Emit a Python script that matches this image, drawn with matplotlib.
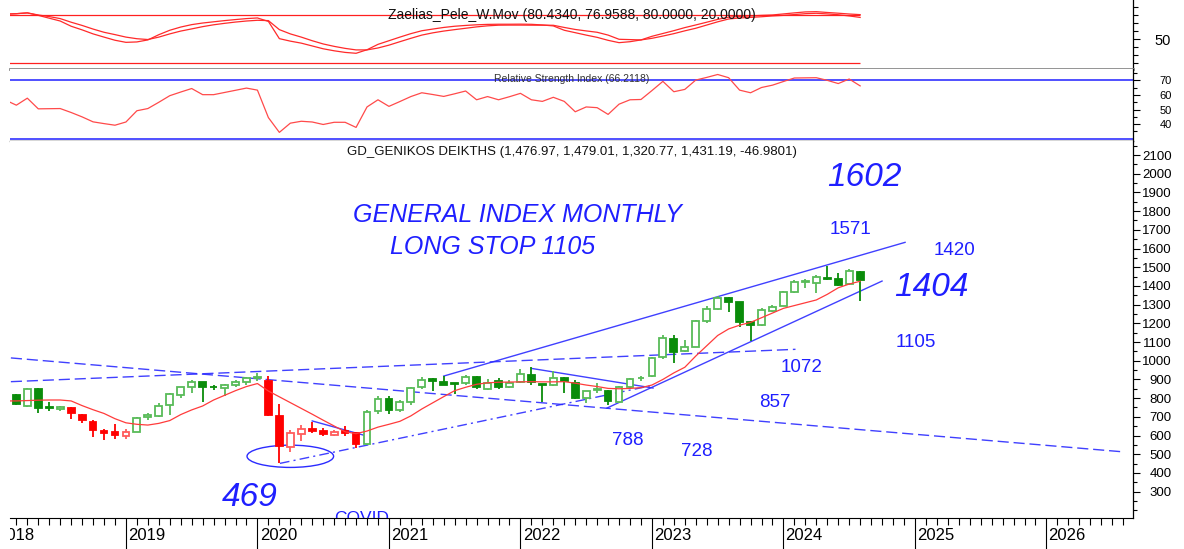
import numpy as np
import matplotlib
matplotlib.use("Agg")
import matplotlib.pyplot as plt
from matplotlib.patches import Ellipse
from matplotlib.ticker import FixedLocator, MultipleLocator
from matplotlib.transforms import Bbox, TransformedBbox, blended_transform_factory

plt.rcParams['font.family'] = ['Liberation Sans', 'DejaVu Sans']

# month index 0 = Jan 2018; candles run Feb 2018 .. Aug 2024
first_month = 1
years = list(range(2018, 2027))

opens = [865, 817, 760, 849, 750, 740, 748, 711, 672, 624,
         619, 596, 619, 698, 706, 762, 815, 858, 885, 860,
         852, 870, 888, 909, 893, 706, 537, 608, 635, 624,
         603, 624, 612, 553, 731, 797, 735, 781, 858, 904,
         884, 880, 880, 915, 849, 890, 859, 885, 925, 876,
         869, 910, 880, 802, 843, 838, 778, 862, 905, 920,
         1018, 1115, 1050, 1075, 1213, 1277, 1337, 1314, 1209, 1189,
         1266, 1293, 1366, 1420, 1414, 1445, 1436, 1411, 1476.97]
highs = [880, 820, 853, 856, 781, 760, 750, 713, 683, 636,
         661, 634, 700, 720, 772, 825, 862, 898, 887, 870,
         875, 895, 915, 932, 918, 769, 629, 657, 675, 640,
         630, 650, 614, 735, 810, 811, 790, 862, 912, 906,
         918, 882, 925, 920, 900, 910, 895, 955, 965, 878,
         945, 912, 898, 836, 880, 842, 865, 910, 917, 1020,
         1135, 1138, 1110, 1220, 1290, 1345, 1339, 1316, 1211, 1280,
         1300, 1375, 1432, 1436, 1458, 1506, 1468, 1490, 1479.01]
lows = [790, 763, 755, 722, 733, 730, 690, 665, 594, 576,
        583, 583, 617, 685, 700, 710, 800, 830, 781, 845,
        812, 860, 870, 893, 705, 455, 513, 570, 613, 600,
        595, 600, 532, 550, 715, 715, 725, 765, 850, 840,
        868, 822, 870, 850, 845, 848, 855, 880, 870, 781,
        865, 826, 794, 773, 830, 763, 775, 850, 890, 915,
        1010, 989, 1045, 1072, 1200, 1270, 1259, 1182, 1107, 1185,
        1262, 1290, 1360, 1388, 1360, 1434, 1400, 1405, 1320.77]
closes = [818, 768, 849, 747, 746, 752, 719, 681, 629, 615,
          604, 621, 695, 710, 756, 820, 858, 888, 862, 857,
          872, 886, 906, 913, 710, 544, 612, 635, 623, 608,
          619, 612, 555, 724, 796, 736, 778, 852, 898, 889,
          872, 878, 911, 859, 883, 862, 883, 927, 886, 870,
          910, 889, 799, 836, 848, 786, 862, 901, 908, 1012,
          1120, 1046, 1075, 1214, 1277, 1334, 1312, 1209, 1191, 1271,
          1289, 1366, 1423, 1424, 1446, 1436, 1407, 1480, 1431.19]
# U = up trend (green), D = down trend (red)
trend = ("UUUUUU" "DDDDDD" "UUUUUUUUUUUU" "DDDDDDDDD"
         "UUUUUUUUUUUUUUUUUUUUUUUUUUUUUUUUUUUUUUUUUUUUUU")

moving_avg = [785, 785, 787, 789, 790, 790, 785, 760, 738, 718,
              690, 668, 660, 656, 665, 680, 712, 737, 758, 790,
              815, 840, 862, 878, 838, 807, 776, 745, 714, 682,
              651, 620, 610, 624, 645, 660, 676, 705, 742, 775,
              808, 840, 858, 874, 882, 885, 886, 887, 888, 887,
              887, 888, 880, 870, 862, 852, 850, 852, 856, 870,
              900, 935, 965, 1025, 1080, 1135, 1170, 1190, 1205, 1230,
              1255, 1280, 1295, 1310, 1325, 1355, 1390, 1410, 1425]

zaelias_fast = [81.0, 81.6, 82.6, 79.5, 76.0, 72.5, 66.0, 61.5, 56.5, 52.5,
                48.6, 46.0, 46.5, 49.0, 55.5, 61.0, 65.0, 68.0, 70.0, 71.5,
                73.0, 74.3, 75.5, 76.3, 72.0, 50.6, 47.5, 45.0, 41.5, 38.0,
                35.5, 33.5, 32.4, 36.8, 43.5, 48.0, 52.5, 56.8, 60.4, 62.5,
                64.5, 66.0, 67.0, 67.8, 68.3, 68.5, 68.5, 68.6, 68.4, 67.6,
                66.4, 61.0, 58.0, 55.0, 52.2, 48.5, 45.6, 46.8, 49.0, 53.5,
                57.0, 60.5, 64.3, 67.6, 71.0, 74.5, 77.3, 78.2, 78.8, 79.5,
                80.0, 81.3, 82.6, 83.8, 84.1, 83.1, 82.2, 81.2, 80.434]
zaelias_slow = [81.0, 81.6, 82.6, 80.0, 78.0, 75.5, 71.0, 67.0, 62.5, 58.5,
                55.6, 52.5, 50.5, 49.5, 52.5, 56.5, 60.0, 62.7, 65.5, 67.8,
                69.6, 71.2, 72.5, 73.4, 73.0, 61.8, 56.5, 52.5, 48.0, 44.0,
                41.0, 38.5, 36.6, 36.6, 39.0, 42.5, 46.8, 51.0, 55.0, 57.8,
                60.0, 61.8, 63.5, 65.2, 66.5, 67.3, 67.4, 67.4, 67.3, 67.3,
                67.2, 64.5, 62.0, 60.2, 58.5, 55.0, 49.8, 49.4, 49.0, 51.0,
                53.8, 56.8, 60.3, 63.5, 67.5, 71.5, 75.0, 76.3, 77.0, 77.8,
                78.8, 79.5, 80.5, 81.6, 82.1, 81.3, 80.3, 78.8, 76.959]
zaelias_levels = [80.0, 20.0]

rsi = [56.5, 53.0, 57.8, 50.5, 50.6, 50.7, 48.0, 45.0, 41.6, 40.4,
       39.3, 41.5, 49.2, 50.7, 55.0, 59.5, 62.0, 64.4, 60.2, 60.2,
       61.7, 63.2, 64.7, 63.3, 44.5, 34.4, 40.7, 42.0, 41.5, 39.8,
       41.3, 41.3, 37.8, 51.8, 56.7, 52.2, 55.5, 58.9, 61.5, 60.3,
       59.0, 60.8, 62.7, 56.7, 58.9, 56.7, 58.8, 61.1, 56.7, 55.6,
       58.4, 55.6, 48.5, 51.8, 51.3, 46.7, 53.7, 56.7, 56.9, 63.0,
       69.3, 62.2, 63.8, 70.2, 72.0, 74.0, 71.8, 63.3, 61.5, 65.1,
       66.7, 69.2, 71.6, 71.7, 71.8, 70.0, 67.8, 70.9, 66.21]
rsi_levels = [70, 30]

# hand-drawn lines: (month, price) endpoints
upper_channel = [(41.0, 918), (83.1, 1633)]
lower_channel = [(55.9, 747), (81.0, 1426)]
triangle_top = [(49.0, 959), (60.1, 854)]
covid_down = [(29.0, 678), (34.0, 597)]
long_falling = [(1.5, 1015), (103.15, 512)]
long_rising = [(1.5, 888), (73.1, 1061)]
covid_support = [(26.05, 451), (59.8, 865)]
covid_low_ellipse = (27.0, 489, 7.9, 119)

big_notes = [("1602", 79.4, 1982), ("1404", 85.5, 1394), ("469", 23.3, 271)]
small_notes = [("1571", 78.15, 1704), ("1420", 87.6, 1587), ("1105", 84.1, 1095),
               ("1072", 73.7, 966), ("857", 71.2, 774), ("788", 57.8, 576),
               ("728", 64.1, 517)]
headline = [("GENERAL INDEX MONTHLY", 47.7, 1779), ("LONG STOP 1105", 45.5, 1608)]

W, H = 1184, 549
fig = plt.figure(figsize=(W / 100, H / 100), dpi=100)
left, right = 10 / W, 1133 / W


def frac(y0, y1):
    return [left, 1 - y1 / H, right - left, (y1 - y0) / H]


ax_top = fig.add_axes(frac(0, 68.5))
ax_rsi = fig.add_axes(frac(68.5, 141))
ax = fig.add_axes(frac(141, 518))

x = np.arange(first_month, first_month + len(closes))
xlim = (1.42, 103.9)
blue = '#2b2bff'

for a in (ax_top, ax_rsi, ax):
    a.set_xlim(*xlim)
    a.set_facecolor('white')
    for s in ('top', 'left'):
        a.spines[s].set_visible(False)
    a.spines['right'].set_color('black')
    a.spines['right'].set_linewidth(0.9)
    a.yaxis.tick_right()
    a.tick_params(axis='y', which='both', direction='out', width=0.8, colors='black')

# ---- top panel: Zaelias_Pele_W.Mov
ax_top.set_ylim(13.5, 98.6)
ax_top.plot(x, zaelias_slow, color='#ff2a2a', lw=0.9)
ax_top.plot(x, zaelias_fast, color='#ff2a2a', lw=0.9)
for lvl in zaelias_levels:
    ax_top.hlines(lvl, x[0] - 1, x[-1], color='#ff2020', lw=0.9)
ax_top.set_xticks([])
ax_top.spines['bottom'].set_color('#8a8a8a')
ax_top.spines['bottom'].set_linewidth(2)
ax_top.yaxis.set_major_locator(FixedLocator([50]))
ax_top.yaxis.set_minor_locator(FixedLocator([20, 30, 40, 60, 70, 80, 90]))
ax_top.tick_params(axis='y', which='major', length=5, labelsize=10.5, pad=22.5)
ax_top.tick_params(axis='y', which='minor', length=3.5)
ax_top.text(0.5, 0.78, "Zaelias_Pele_W.Mov (80.4340, 76.9588, 80.0000, 20.0000)",
            transform=ax_top.transAxes, ha='center', va='center', fontsize=10, color='#111111')

# ---- RSI panel
ax_rsi.set_ylim(28.5, 78.1)
for lvl in rsi_levels:
    ax_rsi.axhline(lvl, color='#2020ff', lw=1.1)
ax_rsi.plot(x, rsi, color='#ff4a4a', lw=0.9)
ax_rsi.set_xticks([])
ax_rsi.spines['bottom'].set_color('#333333')
ax_rsi.spines['bottom'].set_linewidth(1.0)
ax_rsi.yaxis.set_major_locator(FixedLocator([40, 50, 60, 70]))
ax_rsi.yaxis.set_minor_locator(FixedLocator([35, 45, 55, 65, 75]))
ax_rsi.tick_params(axis='y', which='major', length=5, labelsize=8, pad=23)
ax_rsi.tick_params(axis='y', which='minor', length=3)
ax_rsi.text(0.5, 0.855, "Relative Strength Index (66.2118)", transform=ax_rsi.transAxes,
            ha='center', va='center', fontsize=7.5, color='#333333')

# ---- main price panel
ax.set_ylim(159, 2175)
o, h, l, c = map(np.array, (opens, highs, lows, closes))
up = np.array([t == 'U' for t in trend])
hollow = c >= o
dark = np.where(up, '#0a8c0a', '#ff0000')
light = np.where(up, '#58bb58', '#ff5c5c')
edge = np.where(hollow, light, dark)
face = np.where(hollow, 'white', dark)
ax.vlines(x, l, h, colors=edge, lw=1.3, zorder=3)
body_lo = np.minimum(o, c)
body_h = np.maximum(np.abs(c - o), 1.0)
ax.bar(x, body_h, bottom=body_lo, width=0.62, color=face, edgecolor=edge,
       linewidth=1.3, zorder=4)
ax.plot(x, moving_avg, color='#ff3b3b', lw=0.9, zorder=5)

solid = dict(color=blue, lw=1.0, alpha=0.9, zorder=2)
for seg in (upper_channel, lower_channel, triangle_top, covid_down):
    (x0, y0), (x1, y1) = seg
    ax.plot([x0, x1], [y0, y1], **solid)
for seg in (long_falling, long_rising):
    (x0, y0), (x1, y1) = seg
    ax.plot([x0, x1], [y0, y1], color=blue, lw=1.0, alpha=0.9, ls=(0, (8, 3.5)), zorder=2)
(x0, y0), (x1, y1) = covid_support
ax.plot([x0, x1], [y0, y1], color=blue, lw=1.0, alpha=0.9, ls=(0, (7, 3, 1.5, 3)), zorder=2)
ex, ey, ew, eh = covid_low_ellipse
ax.add_patch(Ellipse((ex, ey), ew, eh, fill=False, edgecolor=blue, lw=1.0, zorder=2))

note_col = '#1f1fff'
for txt, tx, ty in big_notes:
    ax.text(tx, ty, txt, ha='center', va='center', fontsize=24, style='italic', color=note_col)
for txt, tx, ty in small_notes:
    ax.text(tx, ty, txt, ha='center', va='center', fontsize=13.5, color=note_col)
for txt, tx, ty in headline:
    ax.text(tx, ty, txt, ha='center', va='center', fontsize=18, style='italic', color=note_col)
ax.text(33.5, 196, "COVID", ha='center', va='top', fontsize=12.5, color=note_col, clip_on=True)

ax.text(0.5, 0.971, "GD_GENIKOS DEIKTHS (1,476.97, 1,479.01, 1,320.77, 1,431.19, -46.9801)",
        transform=ax.transAxes, ha='center', va='center', fontsize=9.5, color='#111111')

ax.spines['bottom'].set_color('black')
ax.yaxis.set_major_locator(MultipleLocator(100))
ax.yaxis.set_minor_locator(MultipleLocator(50))
ax.set_yticks(range(300, 2101, 100))
ax.tick_params(axis='y', which='major', length=5, labelsize=9.5, pad=23)
ax.tick_params(axis='y', which='minor', length=3)

year_pos = [(yr - 2018) * 12 for yr in years]
ax.set_xticks([p for p in year_pos if xlim[0] <= p <= xlim[1]])
ax.set_xticklabels([])
ax.xaxis.set_minor_locator(MultipleLocator(1))
ax.tick_params(axis='x', which='major', length=24, width=0.8, direction='out')
ax.tick_params(axis='x', which='minor', length=5, width=0.8, direction='out')

pos = ax.get_position()
clip = TransformedBbox(Bbox([[pos.x0, 0], [pos.x1, 1]]), fig.transFigure)
trans = blended_transform_factory(ax.transData, ax.transAxes)
for yr, p in zip(years, year_pos):
    t = ax.text(p + 0.2, -0.047, str(yr), transform=trans, ha='left', va='center',
                fontsize=12, color='black')
    t.set_clip_box(clip)
    t.set_clip_on(True)

for a in (ax_top, ax_rsi, ax):
    plt.setp(a.yaxis.get_majorticklabels(), ha='right')

fig.savefig('out.png', dpi=100, facecolor='white')
